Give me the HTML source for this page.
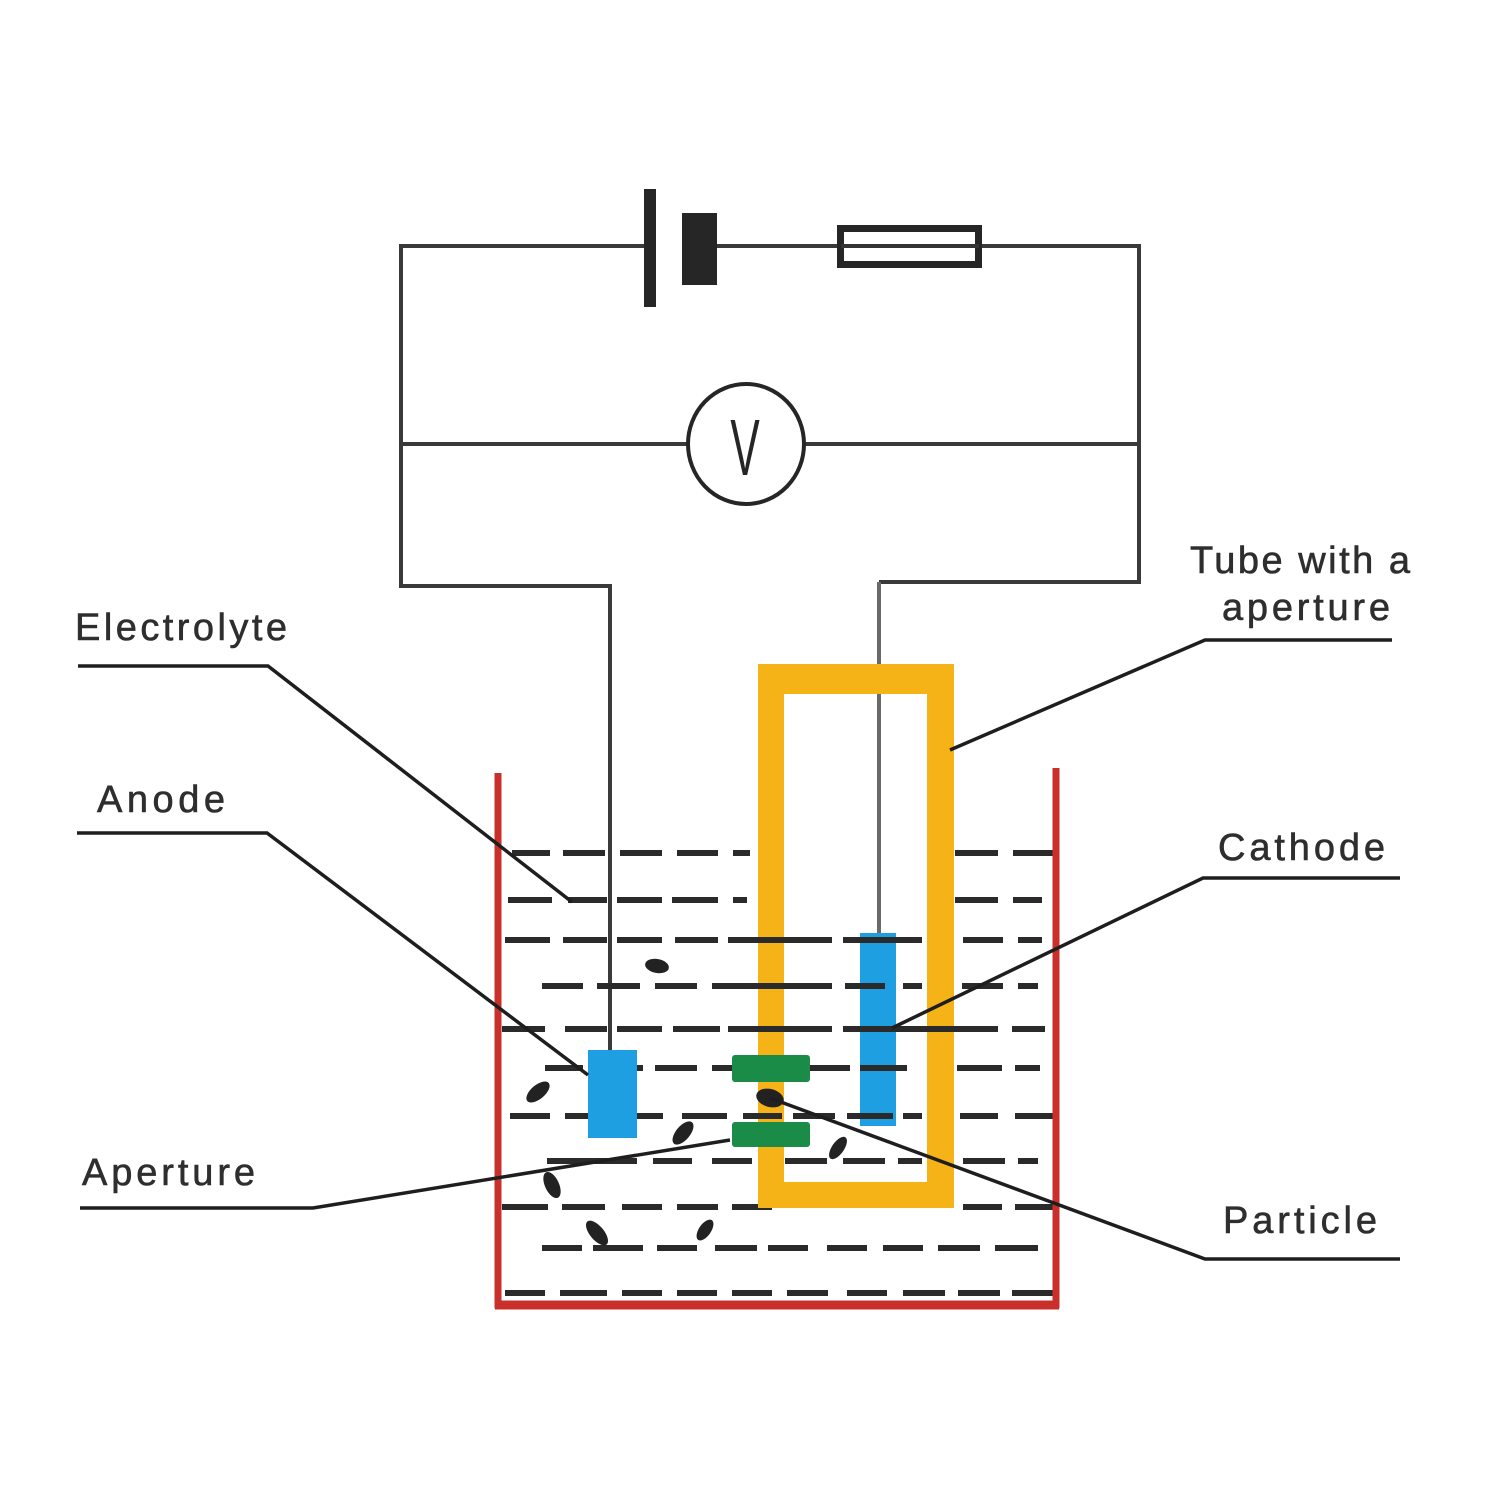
<!DOCTYPE html>
<html>
<head>
<meta charset="utf-8">
<style>
  html,body{margin:0;padding:0;background:#fff;}
  svg{display:block;}
  .lbl{font-family:"Liberation Sans",Arial,sans-serif;font-size:38px;fill:#2e2e2e;stroke:#2e2e2e;stroke-width:0.6px;}
</style>
</head>
<body>
<svg width="1500" height="1500" viewBox="0 0 1500 1500" xmlns="http://www.w3.org/2000/svg">
  <rect width="1500" height="1500" fill="#fff"/>

  <!-- Circuit wires -->
  <g fill="none" stroke="#3a3a3a" stroke-width="4" stroke-linejoin="miter">
    <path d="M644,246 H401 V586 H610 V1050"/>
    <path d="M717,246 H838"/>
    <path d="M982,246 H1139 V582 H879"/>
    <path d="M401,444 H688"/>
    <path d="M805,444 H1139"/>
  </g>
  <path d="M879,582 V935" stroke="#6a6a6a" stroke-width="4" fill="none"/>

  <!-- Battery -->
  <rect x="644" y="189" width="12" height="118" fill="#262626"/>
  <rect x="682" y="213" width="35" height="72" fill="#262626"/>

  <!-- Fuse -->
  <rect x="840.5" y="228.5" width="138" height="36" fill="#fff" stroke="#262626" stroke-width="7"/>
  <line x1="841" y1="246" x2="979" y2="246" stroke="#333" stroke-width="4"/>

  <!-- Voltmeter -->
  <ellipse cx="746" cy="444" rx="58" ry="60" fill="#fff" stroke="#262626" stroke-width="4"/>
  <text transform="translate(745,475) scale(0.55,1)" x="0" y="0" text-anchor="middle" font-family="Liberation Sans, Arial, sans-serif" font-size="80" fill="#262626">V</text>

  <!-- Electrolyte dashed rows (under tube) -->
  <g stroke="#2a2a2a" stroke-width="6" fill="none">
    <path d="M512,853H550M563,853H605M620,853H662M677,853H718M733,853H750M955,853H998M1013,853H1053"/>
    <path d="M508,900H552M568,900H607M617,900H662M672,900H718M733,900H747M955,900H998M1013,900H1042"/>
    <path d="M505,940H550M563,940H607M617,940H662M675,940H718M963,940H1003M1018,940H1042"/>
    <path d="M542,986H583M597,986H640M655,986H697M962,986H1003M1018,986H1038"/>
    <path d="M502,1029H545M565,1029H607M617,1029H662M673,1029H720M1012,1029H1045"/>
    <path d="M545,1068H583M637,1068H643M655,1068H697M712,1068H732M810,1068H850M957,1068H1002M1015,1068H1040"/>
    <path d="M510,1116H550M565,1116H590M637,1116H663M682,1116H727M793,1116H835M903,1116H922M960,1116H998M1015,1116H1053"/>
    <path d="M547,1161H637M653,1161H692M712,1161H752M785,1161H827M843,1161H885M898,1161H922M963,1161H1005M1018,1161H1038"/>
    <path d="M502,1207H548M562,1207H605M622,1207H662M677,1207H718M732,1207H772M963,1207H1002M1015,1207H1053"/>
    <path d="M542,1248H582M593,1248H643M657,1248H697M715,1248H757M768,1248H808M827,1248H867M883,1248H923M938,1248H980M995,1248H1038"/>
    <path d="M505,1293H545M560,1293H607M622,1293H662M677,1293H717M732,1293H772M787,1293H828M847,1293H887M903,1293H945M958,1293H1000M1012,1293H1053"/>
  </g>

  <!-- Cathode (under some dashes) -->
  <rect x="860" y="933" width="36" height="193" fill="#1E9FE1"/>

  <!-- Tube -->
  <path d="M758,664 H954 V1208 H758 Z M784,694 V1182 H927 V694 Z" fill="#F6B317" fill-rule="evenodd"/>

  <!-- Dashes drawn over tube / cathode -->
  <g stroke="#2a2a2a" stroke-width="6" fill="none">
    <path d="M728,940H832M843,940H922"/>
    <path d="M712,986H832M845,986H885M903,986H922"/>
    <path d="M728,1029H832M843,1029H998"/>
    <path d="M860,1068H907"/>
    <path d="M743,1116H782M847,1116H893"/>
  </g>

  <!-- Beaker -->
  <path d="M498,773 V1305 H1056 V768" fill="none" stroke="#C9302C" stroke-width="7"/>
  <line x1="495" y1="1305" x2="1059" y2="1305" stroke="#C9302C" stroke-width="9"/>

  <!-- Anode -->
  <rect x="588" y="1050" width="49" height="88" fill="#1E9FE1"/>

  <!-- Aperture plates -->
  <rect x="732" y="1055" width="78" height="27" rx="3" fill="#1B8C47"/>
  <rect x="732" y="1122" width="78" height="25" rx="3" fill="#1B8C47"/>

  <!-- Particles -->
  <g fill="#222">
    <ellipse cx="657" cy="966" rx="12" ry="7" transform="rotate(10 657 966)"/>
    <ellipse cx="538" cy="1092" rx="14" ry="7" transform="rotate(-40 538 1092)"/>
    <ellipse cx="683" cy="1133" rx="14" ry="7" transform="rotate(-50 683 1133)"/>
    <ellipse cx="770" cy="1098" rx="14" ry="9" transform="rotate(15 770 1098)"/>
    <ellipse cx="838" cy="1148" rx="13" ry="6" transform="rotate(-55 838 1148)"/>
    <ellipse cx="552" cy="1185" rx="14" ry="7" transform="rotate(65 552 1185)"/>
    <ellipse cx="597" cy="1233" rx="15" ry="7" transform="rotate(50 597 1233)"/>
    <ellipse cx="705" cy="1230" rx="12" ry="6" transform="rotate(-55 705 1230)"/>
  </g>

  <!-- Leader lines -->
  <g fill="none" stroke="#1e1e1e" stroke-width="3.5">
    <path d="M78,666 H268 L572,902"/>
    <path d="M77,833 H267 L588,1075"/>
    <path d="M80,1208 H313 L730,1140"/>
    <path d="M770,1098 L1205,1259 H1400"/>
    <path d="M892,1028 L1203,878 H1400"/>
    <path d="M950,750 L1205,640 H1392"/>
  </g>

  <!-- Labels -->
  <text class="lbl" x="75" y="640" textLength="212" lengthAdjust="spacing">Electrolyte</text>
  <text class="lbl" x="97" y="812" textLength="128" lengthAdjust="spacing">Anode</text>
  <text class="lbl" x="82" y="1185" textLength="173" lengthAdjust="spacing">Aperture</text>
  <text class="lbl" x="1190" y="573" textLength="220" lengthAdjust="spacing">Tube with a</text>
  <text class="lbl" x="1222" y="620" textLength="168" lengthAdjust="spacing">aperture</text>
  <text class="lbl" x="1218" y="860" textLength="167" lengthAdjust="spacing">Cathode</text>
  <text class="lbl" x="1223" y="1233" textLength="154" lengthAdjust="spacing">Particle</text>
</svg>
</body>
</html>
